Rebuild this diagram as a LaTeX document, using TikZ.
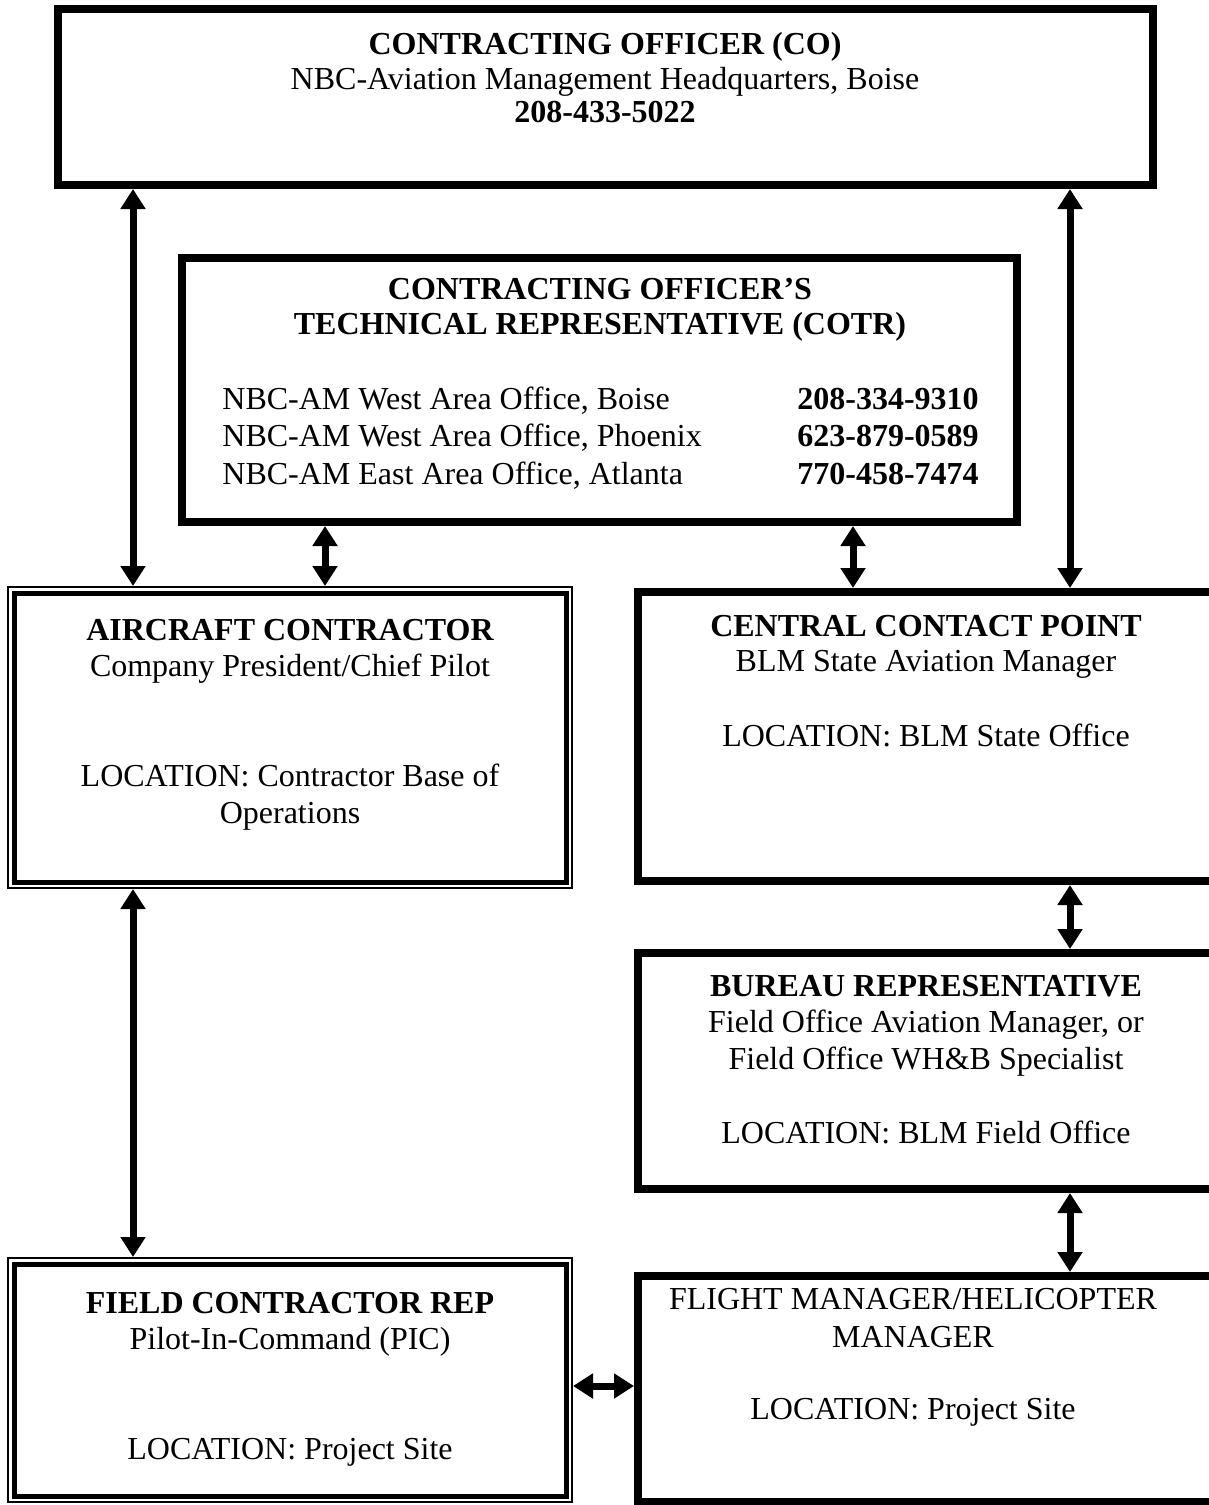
\documentclass[tikz,border=0pt]{standalone}
\usepackage{fontspec}
\setmainfont{Liberation Serif}
\usetikzlibrary{arrows.meta}
\begin{document}
\begin{tikzpicture}[x=0.5pt,y=-0.5pt,
  thickbox/.style={draw=black, line width=4pt, outer sep=2pt, inner sep=0pt, rectangle, fill=white},
  triplebox/.style={draw=black, line width=2.5pt, outer sep=3.5pt, inner sep=0pt, rectangle, fill=white,
     preaction={draw=black, line width=7pt},
     preaction={draw=white, line width=5pt}},
  txt/.style={font=\fontsize{16pt}{18pt}\selectfont, anchor=base, inner sep=0pt},
  btxt/.style={txt, font=\fontsize{16pt}{18pt}\selectfont\bfseries},
  arr/.style={line width=3.5pt, {Triangle[width=12pt,length=10pt]}-{Triangle[width=12pt,length=10pt]}}
]
\useasboundingbox (0,0) rectangle (1209,1505);
\clip (0,0) rectangle (1209,1505);
\fill[white] (0,0) rectangle (1209,1505);

% boxes
\node[thickbox, minimum width=547.5pt, minimum height=88pt] (CO) at (605.5,97) {};
\node[thickbox, minimum width=417.5pt, minimum height=132pt] (COTR) at (599.5,390) {};
\node[triplebox, minimum width=276pt, minimum height=144.5pt] (AC) at (290,737.5) {};
\node[triplebox, minimum width=276pt, minimum height=116pt] (FCR) at (290,1380) {};
\node[thickbox, minimum width=296pt, minimum height=144.5pt] (CCP) at (934,736.5) {};
\node[thickbox, minimum width=296pt, minimum height=118pt] (BR) at (934,1071) {};
\node[thickbox, minimum width=296pt, minimum height=113pt] (FM) at (934,1389) {};

% CO text
\node[btxt] (co1) at (605,54) {CONTRACTING OFFICER (CO)};
\node[txt] (co2) at (605,89) {NBC-Aviation Management Headquarters, Boise};
\node[btxt] (co3) at (605,122) {208-433-5022};

% COTR text
\node[btxt] (cotr1) at (600,299) {CONTRACTING OFFICER’S};
\node[btxt] (cotr2) at (600,334) {TECHNICAL REPRESENTATIVE (COTR)};
\node[txt, anchor=base west] (cotr3) at (222,409) {NBC-AM West Area Office, Boise};
\node[txt, anchor=base west] (cotr4) at (222,446) {NBC-AM West Area Office, Phoenix};
\node[txt, anchor=base west] (cotr5) at (222,484) {NBC-AM East Area Office, Atlanta};
\node[btxt, anchor=base west] (cotr6) at (797,409) {208-334-9310};
\node[btxt, anchor=base west] (cotr7) at (797,446) {623-879-0589};
\node[btxt, anchor=base west] (cotr8) at (797,484) {770-458-7474};

% AC text
\node[btxt] (ac1) at (290,640) {AIRCRAFT CONTRACTOR};
\node[txt] (ac2) at (290,676) {Company President/Chief Pilot};
\node[txt] (ac3) at (290,786) {LOCATION: Contractor Base of};
\node[txt] (ac4) at (290,823) {Operations};

% CCP text
\node[btxt] (ccp1) at (926,636) {CENTRAL CONTACT POINT};
\node[txt] (ccp2) at (926,671) {BLM State Aviation Manager};
\node[txt] (ccp3) at (926,746) {LOCATION: BLM State Office};

% BR text
\node[btxt] (br1) at (926,996) {BUREAU REPRESENTATIVE};
\node[txt] (br2) at (926,1032) {Field Office Aviation Manager, or};
\node[txt] (br3) at (926,1069) {Field Office WH\&B Specialist};
\node[txt] (br4) at (926,1143) {LOCATION: BLM Field Office};

% FM text
\node[txt] (fm1) at (913,1309) {FLIGHT MANAGER/HELICOPTER};
\node[txt] (fm2) at (913,1347) {MANAGER};
\node[txt] (fm3) at (913,1419) {LOCATION: Project Site};

% FCR text
\node[btxt] (fcr1) at (290,1313) {FIELD CONTRACTOR REP};
\node[txt] (fcr2) at (290,1349) {Pilot-In-Command (PIC)};
\node[txt] (fcr3) at (290,1459) {LOCATION: Project Site};

% connector lines
\coordinate (xA) at (133,0);
\coordinate (xB) at (325,0);
\coordinate (xC) at (853,0);
\coordinate (xD) at (1070,0);
\coordinate (yH) at (0,1386);

\draw[arr] (xA |- CO.south) -- (xA |- AC.north);
\draw[arr] (xD |- CO.south) -- (xD |- CCP.north);
\draw[arr] (xB |- COTR.south) -- (xB |- AC.north);
\draw[arr] (xC |- COTR.south) -- (xC |- CCP.north);
\draw[arr] (xA |- AC.south) -- (xA |- FCR.north);
\draw[arr] (xD |- CCP.south) -- (xD |- BR.north);
\draw[arr] (xD |- BR.south) -- (xD |- FM.north);
\draw[arr] (FCR.east |- yH) -- (FM.west |- yH);
\end{tikzpicture}
\end{document}
